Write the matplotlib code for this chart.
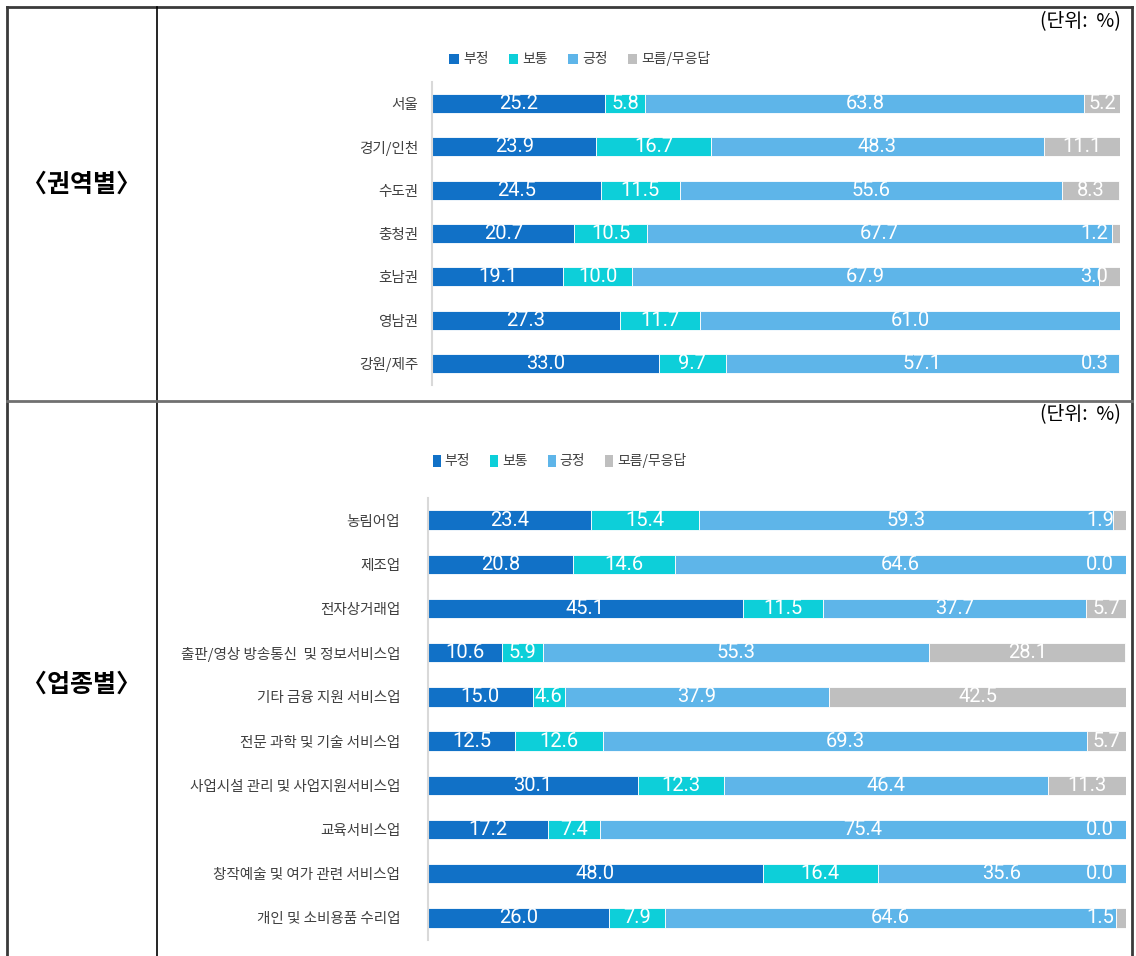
import matplotlib
matplotlib.use("Agg")
import matplotlib.pyplot as plt
from matplotlib.patches import Patch
from matplotlib.lines import Line2D

plt.rcParams['font.family'] = ['Noto Sans CJK KR', 'DejaVu Sans']

series_names = ["부정", "보통", "긍정", "모름/무응답"]
colors = ["#1171C7", "#0DCFD9", "#5EB5E9", "#BFBFBF"]

region_labels = ["서울", "경기/인천", "수도권", "충청권", "호남권", "영남권", "강원/제주"]
region_neg = [25.2, 23.9, 24.5, 20.7, 19.1, 27.3, 33.0]
region_mid = [5.8, 16.7, 11.5, 10.5, 10.0, 11.7, 9.7]
region_pos = [63.8, 48.3, 55.6, 67.7, 67.9, 61.0, 57.1]
region_unk = [5.2, 11.1, 8.3, 1.2, 3.0, 0.0, 0.3]
region_unk_shown = [True, True, True, True, True, False, True]

ind_labels = ["농림어업", "제조업", "전자상거래업", "출판/영상 방송통신  및 정보서비스업",
              "기타 금융 지원 서비스업", "전문 과학 및 기술 서비스업",
              "사업시설 관리 및 사업지원서비스업", "교육서비스업",
              "창작예술 및 여가 관련 서비스업", "개인 및 소비용품 수리업"]
ind_neg = [23.4, 20.8, 45.1, 10.6, 15.0, 12.5, 30.1, 17.2, 48.0, 26.0]
ind_mid = [15.4, 14.6, 11.5, 5.9, 4.6, 12.6, 12.3, 7.4, 16.4, 7.9]
ind_pos = [59.3, 64.6, 37.7, 55.3, 37.9, 69.3, 46.4, 75.4, 35.6, 64.6]
ind_unk = [1.9, 0.0, 5.7, 28.1, 42.5, 5.7, 11.3, 0.0, 0.0, 1.5]
ind_unk_shown = [True] * 10

W, H = 1136, 956
fig = plt.figure(figsize=(W / 100, H / 100), dpi=100)


def fx(px):
    return px / W


def fy(py):
    return 1 - py / H


def draw_chart(rect_px, labels, series, unk_shown, label_pad, legend_y, legend_x, handle_shape, unit_y):
    l, t, r, b = rect_px
    ax = fig.add_axes([fx(l), fy(b), fx(r) - fx(l), fy(t) - fy(b)])
    n = len(labels)
    ys = list(range(n))
    left = [0.0] * n
    for si, vals in enumerate(series):
        ax.barh(ys, vals, left=left, height=0.44, color=colors[si],
                edgecolor="white", linewidth=0.6, zorder=2)
        for i, v in enumerate(vals):
            x0 = left[i]
            cx = x0 + v / 2
            show = True
            if si == 3:
                show = unk_shown[i]
                if v < 4:
                    cx = 96.3
            if show:
                ax.text(cx, i, f"{v:.1f}", ha="center", va="center",
                        color="white", fontsize=14.5, family=["Roboto", "DejaVu Sans"],
                        zorder=3)
        left = [left[i] + vals[i] for i in range(n)]
    ax.set_xlim(0, 100)
    ax.set_ylim(n - 0.5, -0.5)
    ax.set_yticks(ys)
    ax.set_yticklabels(labels, fontsize=10.5, color="#404040")
    ax.tick_params(axis="y", length=0, pad=label_pad)
    ax.set_xticks([])
    for s in ["top", "right", "bottom"]:
        ax.spines[s].set_visible(False)
    ax.spines["left"].set_color("#D9D9D9")
    ax.spines["left"].set_linewidth(1.5)
    hl, hh = handle_shape
    handles = [Patch(facecolor=c, edgecolor="none") for c in colors]
    fig.legend(handles, series_names, loc="center left",
               bbox_to_anchor=(fx(legend_x), fy(legend_y)), ncol=4, frameon=False,
               fontsize=10, handlelength=hl, handleheight=hh, handletextpad=0.3,
               columnspacing=1.45, borderaxespad=0, borderpad=0,
               labelcolor="#404040")
    fig.text(fx(1121), fy(unit_y), "(단위:  %)", ha="right", va="center",
             fontsize=14, color="#000000")
    return ax


draw_chart((432, 82, 1120, 385), region_labels,
           [region_neg, region_mid, region_pos, region_unk], region_unk_shown,
           label_pad=10, legend_y=59, legend_x=449, handle_shape=(0.7, 0.7), unit_y=22)

draw_chart((428, 498, 1126, 940), ind_labels,
           [ind_neg, ind_mid, ind_pos, ind_unk], ind_unk_shown,
           label_pad=20, legend_y=461, legend_x=433, handle_shape=(0.55, 1.0), unit_y=415)

# table frame
def hline(y, x0, x1, lw, c):
    fig.add_artist(Line2D([fx(x0), fx(x1)], [fy(y), fy(y)], lw=lw, color=c))


def vline(x, y0, y1, lw, c):
    fig.add_artist(Line2D([fx(x), fx(x)], [fy(y0), fy(y1)], lw=lw, color=c))


hline(7, 7, 1132, 2.0, "#3A3A3A")
vline(7, 7, 956, 2.0, "#3A3A3A")
vline(1132, 7, 956, 2.0, "#3A3A3A")
vline(157, 7, 956, 1.2, "#000000")
hline(401, 7, 1132, 2.0, "#707070")

fig.text(fx(82), fy(185), "〈권역별〉", ha="center", va="center",
         fontsize=18, fontweight="bold", color="#000000")
fig.text(fx(82), fy(685), "〈업종별〉", ha="center", va="center",
         fontsize=18, fontweight="bold", color="#000000")

fig.savefig("out.png", dpi=100, facecolor="white")
